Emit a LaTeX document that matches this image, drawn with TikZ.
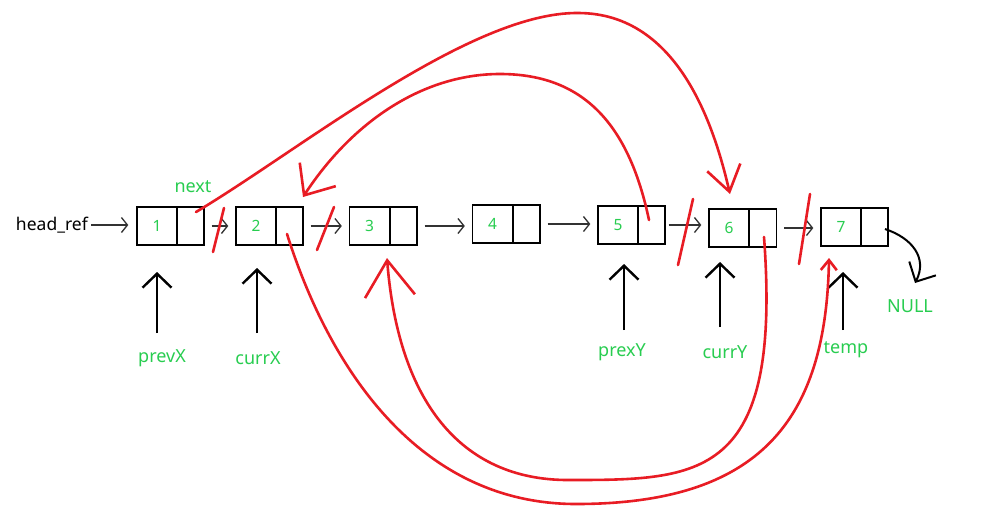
\documentclass[tikz,border=0pt]{standalone}
\usepackage{fontspec}
\setmainfont{Noto Sans}
\usetikzlibrary{arrows.meta}
\definecolor{redink}{RGB}{232,28,36}
\definecolor{greenink}{RGB}{40,205,80}
\definecolor{darkink}{RGB}{50,50,50}
\tikzset{
  valbox/.style={draw=black,line width=1.4pt,minimum width=40pt,minimum height=38pt,inner sep=0pt,
     text=greenink,font=\fontsize{15.5}{15.5}\selectfont},
  ptrbox/.style={draw=black,line width=1.4pt,minimum width=27pt,minimum height=38pt,inner sep=0pt},
  listarrow/.style={draw=darkink,line width=1.3pt,-{Straight Barb[length=6pt,width=15pt]},
     shorten <=7pt,shorten >=7pt},
  ptrarrow/.style={draw=black,line width=2.4pt,-{Straight Barb[length=14pt,width=29pt]}},
  redline/.style={draw=redink,line width=2.6pt,line cap=round,line join=round},
  lbl/.style={text=greenink,font=\fontsize{18}{18}\selectfont,inner sep=0pt},
}
\begin{document}
\begin{tikzpicture}[x=1pt,y=-1pt]
\useasboundingbox[fill=white] (0,0) rectangle (995,523);

% list boxes
\node[valbox] (v1) at (157,226) {1};
\node[ptrbox] (p1) at (190.5,226) {};
\node[valbox] (v2) at (256,226) {2};
\node[ptrbox] (p2) at (289.5,226) {};
\node[valbox] (v3) at (369.5,226) {3};
\node[ptrbox] (p3) at (403.5,226) {};
\node[valbox] (v4) at (492.5,224) {4};
\node[ptrbox] (p4) at (526.5,224) {};
\node[valbox] (v5) at (618,225) {5};
\node[ptrbox] (p5) at (651.5,225) {};
\node[valbox] (v6) at (729,228) {6};
\node[ptrbox] (p6) at (763,228) {};
\node[valbox] (v7) at (841,227) {7};
\node[ptrbox] (p7) at (874.5,227) {};

% head_ref
\node[font=\fontsize{17.5}{17.5}\selectfont,text=black,inner sep=0pt,anchor=east] (head) at (88,225) {head\_ref};
\draw[listarrow,shorten <=3pt,shorten >=8pt] (head.east) -- (head.east -| v1.west);

% list arrows
\draw[listarrow] (p1.east) -- (p1.east -| v2.west);
\draw[listarrow] (p2.east) -- (p2.east -| v3.west);
\draw[listarrow] (p3.east) -- (p3.east -| v4.west);
\draw[listarrow] (p4.east) -- (p4.east -| v5.west);
\draw[listarrow,shorten <=3pt] (p5.east) -- (p5.east -| v6.west);
\draw[listarrow] (p6.east) -- (p6.east -| v7.west);

% labels
\node[lbl] (next) at (193,187) {next};
\node[lbl] (prevX) at (162,358) {prevX};
\node[lbl] (currX) at (258,358) {currX};
\node[lbl] (prexY) at (622,352) {prexY};
\node[lbl] (currY) at (725,352) {currY};
\node[lbl] (temp) at (846,350) {temp};
\node[lbl] (null) at (910,306) {NULL};

% pointer arrows
\draw[ptrarrow] (157,333) -- (157,272);
\draw[ptrarrow] (257,333) -- (257,268);
\draw[ptrarrow] (624,330) -- (624,264);
\draw[ptrarrow] (720,327) -- (720,262);
\draw[ptrarrow] (843,330) -- (843,272);

% NULL arrow
\draw[draw=black,line width=2pt,-{Straight Barb[length=15pt,width=30pt]}]
  (885,229) .. controls (912,238) and (928,258) .. (915,283);

% red slashes
\draw[redline] (213,252) -- (224,208);
\draw[redline] (317,250) -- (334,207);
\draw[redline] (678,265) -- (693,199);
\draw[redline] (799,264) -- (810,194);

% red curves
\draw[redline,-{Straight Barb[length=25pt,width=34pt]}]
  (196,212) .. controls (300,150) and (470,12) .. (578,13)
            .. controls (680,13) and (715,130) .. (730,194);
\draw[redline,-{Straight Barb[length=25pt,width=43pt]}]
  (649,220) .. controls (628,120) and (580,74) .. (500,74)
            .. controls (420,74) and (350,125) .. (303,197);
\draw[redline,-{Straight Barb[length=10pt,width=16pt]}]
  (287,234) .. controls (330,370) and (420,504) .. (576,504)
            .. controls (760,504) and (826,420) .. (829,258);
\draw[redline,-{Straight Barb[length=36pt,width=50pt]}]
  (764,237) .. controls (782,480) and (700,480) .. (568,480)
            .. controls (460,480) and (398,400) .. (387,258);
\end{tikzpicture}
\end{document}
